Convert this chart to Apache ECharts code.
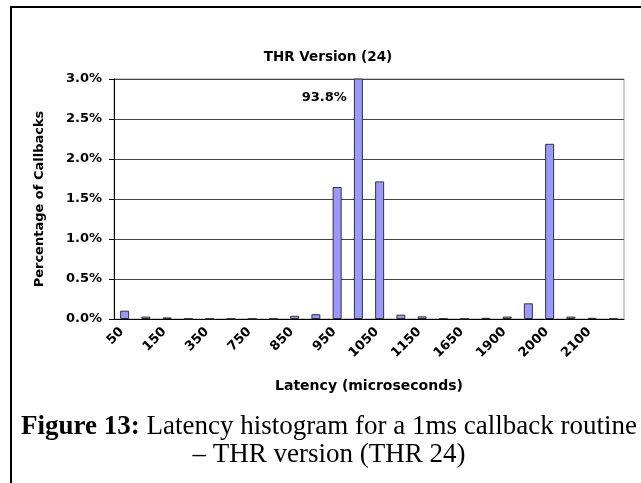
<!DOCTYPE html>
<html>
<head>
<meta charset="utf-8">
<script src="https://cdn.jsdelivr.net/npm/echarts@6/dist/echarts.min.js"></script>
<style>
html, body { margin: 0; padding: 0; background: #fff; }
#chart { width: 641px; height: 483px; position: relative; }
#frame { position: absolute; left: 10px; top: 6px; right: -10px; bottom: -10px;
  border-left: 2px solid #000; border-top: 2px solid #000; pointer-events: none; }
</style>
</head>
<body>
<div id="chart"></div>
<script>
// latency bins (us); only every other one is labelled on the axis
var latencyBins = ['50', '100', '150', '250', '350', '700', '750', '800', '850', '900', '950', '1000',
  '1050', '1100', '1150', '1200', '1650', '1850', '1900', '1950', '2000', '2050', '2100', '2150'];
// percentage of callbacks in each bin
var pctCallbacks = [0.104, 0.03, 0.02, 0.005, 0.005, 0.005, 0.005, 0.005, 0.04, 0.06, 1.65, 93.8,
  1.72, 0.054, 0.033, 0.01, 0.005, 0.015, 0.03, 0.196, 2.19, 0.03, 0.015, 0.005];
var yTicks = [0, 0.5, 1.0, 1.5, 2.0, 2.5, 3.0];

var chart = echarts.init(document.getElementById('chart'));
var boldSans = 'DejaVu Sans';

var barData = pctCallbacks.map(function (v) {
  if (v > yTicks[yTicks.length - 1]) {
    // off-scale bar: clipped at the top, value written beside it
    return {
      value: v,
      label: {
        show: true,
        position: [-7, 19],
        align: 'right',
        verticalAlign: 'middle',
        formatter: function (p) { return p.value.toFixed(1) + '%'; },
        fontFamily: boldSans, fontWeight: 'bold', fontSize: 13, color: '#000'
      }
    };
  }
  return v;
});

chart.setOption({
  animation: false,
  title: [{
    text: 'THR Version (24)',
    left: 323, top: 45, textAlign: 'center',
    textStyle: { fontFamily: boldSans, fontWeight: 'bold', fontSize: 13.5, color: '#000' }
  }, {
    text: '{b|Figure 13:} Latency histogram for a 1ms callback routine\n– THR version (THR 24)',
    left: 324, top: 408, textAlign: 'center',
    textStyle: {
      fontFamily: 'Liberation Serif', fontWeight: 'normal', fontSize: 27, color: '#000', lineHeight: 28,
      rich: { b: { fontFamily: 'Liberation Serif', fontWeight: 'bold', fontSize: 27, color: '#000', lineHeight: 28 } }
    }
  }],
  grid: { left: 114, right: 17, top: 79, bottom: 164, show: true, borderColor: '#999', borderWidth: 1 },
  xAxis: {
    type: 'category',
    data: latencyBins,
    name: 'Latency (microseconds)',
    nameLocation: 'middle',
    nameGap: 60,
    nameTextStyle: { fontFamily: boldSans, fontWeight: 'bold', fontSize: 14, color: '#000' },
    axisLine: { lineStyle: { color: '#000', width: 1 } },
    axisTick: { interval: 0, length: 5, lineStyle: { color: '#000' } },
    axisLabel: { interval: 1, rotate: 45, margin: 8, padding: [0, 4, 0, 0], fontFamily: boldSans, fontWeight: 'bold', fontSize: 13, color: '#000' }
  },
  yAxis: {
    type: 'value',
    min: yTicks[0], max: yTicks[yTicks.length - 1], interval: 0.5,
    name: 'Percentage of Callbacks',
    nameLocation: 'middle',
    nameGap: 68,
    nameTextStyle: { fontFamily: boldSans, fontWeight: 'bold', fontSize: 13, color: '#000' },
    axisLine: { show: true, lineStyle: { color: '#000', width: 1 } },
    axisTick: { show: true, length: 5, lineStyle: { color: '#000' } },
    axisLabel: {
      margin: 12, fontFamily: boldSans, fontWeight: 'bold', fontSize: 13, color: '#000',
      formatter: function (v) { return v.toFixed(1) + '%'; }
    },
    splitLine: { show: true, lineStyle: { color: '#444', width: 1 } }
  },
  series: [{
    type: 'bar',
    data: barData,
    barWidth: 9,
    clip: true,
    itemStyle: { color: '#9999ff', borderColor: '#333', borderWidth: 1 }
  }]
});
</script>
<div id="frame"></div>
</body>
</html>
